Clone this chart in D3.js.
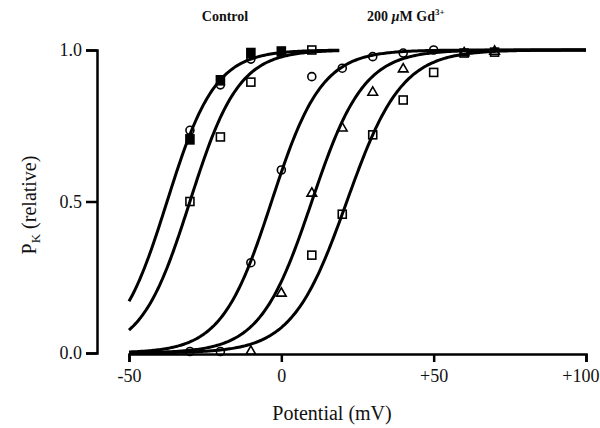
<!DOCTYPE html>
<html>
<head>
<meta charset="utf-8">
<script src="https://cdn.jsdelivr.net/npm/d3@7"></script>
<style>
  html, body { margin: 0; padding: 0; background: #fff; }
  svg { display: block; }
  text { font-family: "Liberation Serif", "Times New Roman", serif; fill: #111; }
</style>
</head>
<body>
<svg id="chart" width="600" height="428"></svg>
<script>
// Relative K+ permeability against membrane potential (mV)
// Control: filled squares, open circles, open squares
const ctrlFilledSquares = [[-30, 0.705], [-20, 0.90], [-10, 0.99], [0, 0.995]];
const ctrlCircles       = [[-30, 0.735], [-20, 0.885], [-10, 0.97]];
const ctrlSquares       = [[-30, 0.50], [-20, 0.713], [-10, 0.894], [10, 1.0]];

// 200 µM Gd3+: open circles, open triangles, open squares
const gdCircles   = [[-30, 0.005], [-20, 0.005], [-10, 0.298], [0, 0.604], [10, 0.912],
                     [20, 0.94], [30, 0.978], [40, 0.99], [50, 1.0]];
const gdTriangles = [[-10, 0.005], [0, 0.197], [10, 0.527], [20, 0.742], [30, 0.86],
                     [40, 0.937], [60, 0.99], [70, 0.995]];
const gdSquares   = [[10, 0.323], [20, 0.458], [30, 0.72], [40, 0.835], [50, 0.926],
                     [60, 0.99], [70, 0.993]];

// Boltzmann fits: half-activation voltage (mV), slope factor (mV), last voltage drawn
const fitMidpoints = [-37.5, -30, -3.2, 10, 21.5];
const fitSlopes    = [7.9, 8.0, 8.2, 8.5, 9.0];
const fitEnds      = [19, 19, 100, 100, 100];

// Axis ticks
const xTicks = [-50, 0, 50, 100];
const yTicks = [0, 0.5, 1.0];

const svg = d3.select("#chart");
const x = d3.scaleLinear().domain([-50, 100]).range([129, 586]);
const y = d3.scaleLinear().domain([0, 1]).range([353, 50]);

// Fitted curves
const boltzmann = (v, v0, k) => 1 / (1 + Math.exp((v0 - v) / k));
const line = d3.line().x(d => x(d[0])).y(d => y(d[1]));
fitMidpoints.forEach((v0, i) => {
  const pts = d3.range(-50, fitEnds[i] + 0.001, 0.5).map(v => [v, boltzmann(v, v0, fitSlopes[i])]);
  svg.append("path")
    .attr("d", line(pts))
    .attr("fill", "none")
    .attr("stroke", "#000")
    .attr("stroke-width", 3);
});

// Y axis (offset to the left of the plot)
const yAxis = d3.axisLeft(y)
  .tickValues(yTicks)
  .tickSize(11)
  .tickPadding(4)
  .tickFormat(d3.format(".1f"));
const gy = svg.append("g").attr("transform", "translate(97,0)").call(yAxis);
gy.select(".domain").attr("stroke-width", 2.5);
gy.selectAll(".tick line").attr("stroke-width", 2.5);
gy.selectAll(".tick text").attr("font-size", 18).attr("font-family", "Liberation Serif").attr("fill", "#111");

// X axis
const xAxis = d3.axisBottom(x)
  .tickValues(xTicks)
  .tickSize(8)
  .tickPadding(7)
  .tickFormat(d => d > 0 ? "+" + d : (d < 0 ? "-" + Math.abs(d) : "0"));
const gx = svg.append("g").attr("transform", "translate(0," + (y(0) + 1) + ")").call(xAxis);
gx.select(".domain").attr("stroke-width", 2.5);
gx.selectAll(".tick line").attr("stroke-width", 2.5);
gx.selectAll(".tick text").attr("font-size", 18).attr("font-family", "Liberation Serif").attr("fill", "#111");
// keep the last label inside the right edge
gx.selectAll(".tick text").filter(d => d === 100)
  .attr("text-anchor", "end").attr("x", 13);

// Markers
const g = svg.append("g").attr("stroke", "#000").attr("stroke-width", 1.6);
g.selectAll(".fsq").data(ctrlFilledSquares).join("rect")
  .attr("x", d => x(d[0]) - 4).attr("y", d => y(d[1]) - 4.5)
  .attr("width", 8).attr("height", 9).attr("fill", "#000");
const squares = ctrlSquares.concat(gdSquares);
g.selectAll(".osq").data(squares).join("rect")
  .attr("x", d => x(d[0]) - 4).attr("y", d => y(d[1]) - 4)
  .attr("width", 8).attr("height", 8).attr("fill", "none");
const circles = ctrlCircles.concat(gdCircles);
g.selectAll(".oc").data(circles).join("circle")
  .attr("cx", d => x(d[0])).attr("cy", d => y(d[1]))
  .attr("r", 4).attr("fill", "none");
const tri = d3.symbol().type(d3.symbolTriangle).size(40);
g.selectAll(".ot").data(gdTriangles).join("path")
  .attr("transform", d => "translate(" + x(d[0]) + "," + y(d[1]) + ")")
  .attr("d", tri).attr("fill", "none");

// Condition labels
svg.append("text").attr("x", 225).attr("y", 21).attr("text-anchor", "middle")
  .attr("font-size", 14).attr("font-weight", "bold").text("Control");
const gd = svg.append("text").attr("x", 367).attr("y", 21)
  .attr("font-size", 14).attr("font-weight", "bold");
gd.append("tspan").text("200 ");
gd.append("tspan").attr("font-style", "italic").text("µ");
gd.append("tspan").text("M Gd");
gd.append("tspan").attr("font-size", 9).attr("dy", -6).text("3+");

// Axis titles
svg.append("text").attr("x", 332).attr("y", 420).attr("text-anchor", "middle")
  .attr("font-size", 20).text("Potential (mV)");
const yt = svg.append("text")
  .attr("transform", "translate(36,205) rotate(-90)")
  .attr("text-anchor", "middle").attr("font-size", 20);
yt.append("tspan").text("P");
yt.append("tspan").attr("font-size", 13).attr("dy", 4).text("K");
yt.append("tspan").attr("dy", -4).text(" (relative)");
</script>
</body>
</html>
